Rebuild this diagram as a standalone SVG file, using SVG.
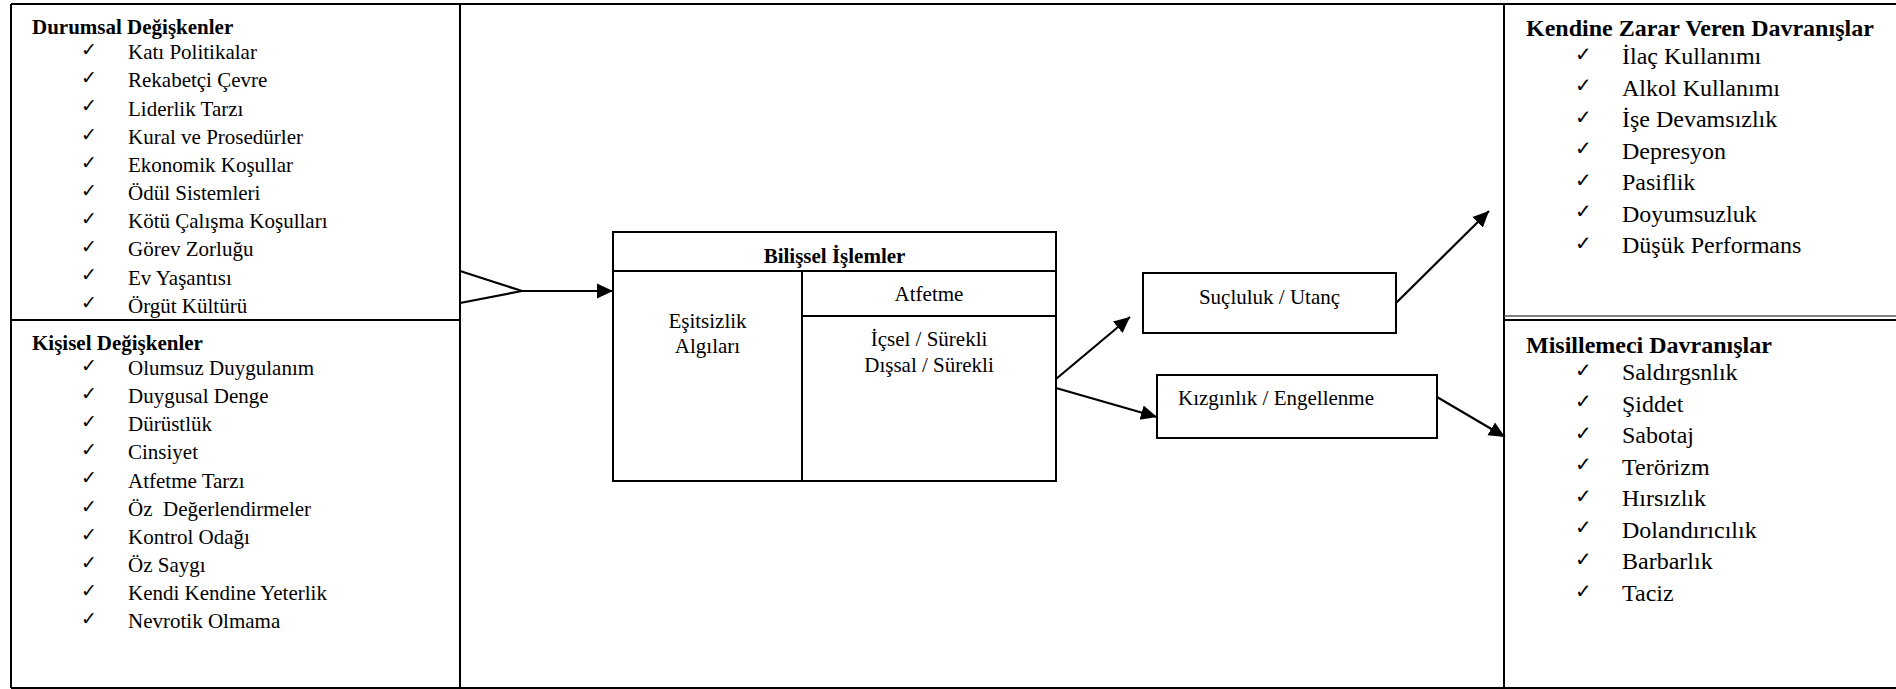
<svg xmlns="http://www.w3.org/2000/svg" width="1896" height="689" viewBox="0 0 1896 689">
<style>
.t{font-size:21px;fill:#000}
.b{font-weight:bold}
.r{font-size:24px}
.ck{font-size:19px;fill:#000}
.ckr{font-size:20px}
.m{text-anchor:middle}
.ln{stroke:#000;stroke-width:2;fill:none}
.bx{stroke:#000;stroke-width:2;fill:#fff}
.cn{stroke:#000;stroke-width:2.2;fill:none}
</style>
<defs>
<marker id="ah" markerUnits="userSpaceOnUse" markerWidth="18" markerHeight="18" viewBox="0 0 18 18" refX="16" refY="9" orient="auto">
<path d="M0,1.5 L16,9 L0,16.5 Z" fill="#000"/>
</marker>
</defs>
<rect x="0" y="0" width="1896" height="689" fill="#fff"/>

<g id="frame">
<path class="ln" d="M11,4 H1896 M11,688 H1896 M11,4 V688 M460,4 V688 M1504,4 V688 M11,320 H460 M1504,320 H1896"/>
<path d="M1504,316 H1896" stroke="#555" stroke-width="1.5" fill="none"/>
</g>

<g id="durumsal" font-family="'Liberation Serif', 'Times New Roman', serif">
<text class="t b" x="32" y="34">Durumsal Değişkenler</text>
<text class="ck" font-family="'DejaVu Sans', sans-serif">
<tspan x="81" y="56">✓</tspan><tspan x="81" y="84">✓</tspan><tspan x="81" y="112">✓</tspan><tspan x="81" y="141">✓</tspan><tspan x="81" y="169">✓</tspan><tspan x="81" y="197">✓</tspan><tspan x="81" y="225">✓</tspan><tspan x="81" y="253">✓</tspan><tspan x="81" y="281">✓</tspan><tspan x="81" y="309">✓</tspan>
</text>
<text class="t">
<tspan x="128" y="59">Katı Politikalar</tspan>
<tspan x="128" y="87">Rekabetçi Çevre</tspan>
<tspan x="128" y="115.5">Liderlik Tarzı</tspan>
<tspan x="128" y="143.5">Kural ve Prosedürler</tspan>
<tspan x="128" y="171.5">Ekonomik Koşullar</tspan>
<tspan x="128" y="200">Ödül Sistemleri</tspan>
<tspan x="128" y="228">Kötü Çalışma Koşulları</tspan>
<tspan x="128" y="256">Görev Zorluğu</tspan>
<tspan x="128" y="284.5">Ev Yaşantısı</tspan>
<tspan x="128" y="312.5">Örgüt Kültürü</tspan>
</text>
</g>

<g id="kisisel" font-family="'Liberation Serif', 'Times New Roman', serif">
<text class="t b" x="32" y="350">Kişisel Değişkenler</text>
<text class="ck" font-family="'DejaVu Sans', sans-serif">
<tspan x="81" y="372">✓</tspan><tspan x="81" y="400">✓</tspan><tspan x="81" y="428">✓</tspan><tspan x="81" y="456">✓</tspan><tspan x="81" y="484">✓</tspan><tspan x="81" y="513">✓</tspan><tspan x="81" y="541">✓</tspan><tspan x="81" y="569">✓</tspan><tspan x="81" y="597">✓</tspan><tspan x="81" y="625">✓</tspan>
</text>
<text class="t">
<tspan x="128" y="375">Olumsuz Duygulanım</tspan>
<tspan x="128" y="403">Duygusal Denge</tspan>
<tspan x="128" y="431">Dürüstlük</tspan>
<tspan x="128" y="459">Cinsiyet</tspan>
<tspan x="128" y="487.5">Atfetme Tarzı</tspan>
<tspan x="128" y="515.5" xml:space="preserve">Öz  Değerlendirmeler</tspan>
<tspan x="128" y="543.5">Kontrol Odağı</tspan>
<tspan x="128" y="571.5">Öz Saygı</tspan>
<tspan x="128" y="600">Kendi Kendine Yeterlik</tspan>
<tspan x="128" y="628">Nevrotik Olmama</tspan>
</text>
</g>

<g id="bilissel" font-family="'Liberation Serif', 'Times New Roman', serif">
<rect class="bx" x="613" y="232" width="443" height="249"/>
<path class="ln" d="M613,271 H1056 M802,271 V481 M802,316 H1056"/>
<text class="t b m" x="834.5" y="263">Bilişsel İşlemler</text>
<text class="t m" x="929" y="301">Atfetme</text>
<text class="t m" x="707.5" y="328">Eşitsizlik</text>
<text class="t m" x="707.5" y="353">Algıları</text>
<text class="t m" x="929" y="346">İçsel / Sürekli</text>
<text class="t m" x="929" y="372">Dışsal / Sürekli</text>
</g>

<g id="sucluluk" font-family="'Liberation Serif', 'Times New Roman', serif">
<rect class="bx" x="1143" y="273" width="253" height="60"/>
<text class="t m" x="1269.5" y="304">Suçluluk / Utanç</text>
</g>

<g id="kizginlik" font-family="'Liberation Serif', 'Times New Roman', serif">
<rect class="bx" x="1157" y="375" width="280" height="63"/>
<text class="t" x="1178" y="405">Kızgınlık / Engellenme</text>
</g>

<g id="kendine" font-family="'Liberation Serif', 'Times New Roman', serif">
<text class="t b r" x="1526" y="36">Kendine Zarar Veren Davranışlar</text>
<text class="ck ckr" font-family="'DejaVu Sans', sans-serif">
<tspan x="1575" y="61">✓</tspan><tspan x="1575" y="92">✓</tspan><tspan x="1575" y="124">✓</tspan><tspan x="1575" y="155">✓</tspan><tspan x="1575" y="187">✓</tspan><tspan x="1575" y="218">✓</tspan><tspan x="1575" y="250">✓</tspan>
</text>
<text class="t r">
<tspan x="1622" y="64">İlaç Kullanımı</tspan>
<tspan x="1622" y="95.5">Alkol Kullanımı</tspan>
<tspan x="1622" y="127">İşe Devamsızlık</tspan>
<tspan x="1622" y="158.5">Depresyon</tspan>
<tspan x="1622" y="190">Pasiflik</tspan>
<tspan x="1622" y="221.5">Doyumsuzluk</tspan>
<tspan x="1622" y="253">Düşük Performans</tspan>
</text>
</g>

<g id="misillemeci" font-family="'Liberation Serif', 'Times New Roman', serif">
<text class="t b r" x="1526" y="353">Misillemeci Davranışlar</text>
<text class="ck ckr" font-family="'DejaVu Sans', sans-serif">
<tspan x="1575" y="377">✓</tspan><tspan x="1575" y="408">✓</tspan><tspan x="1575" y="440">✓</tspan><tspan x="1575" y="471">✓</tspan><tspan x="1575" y="503">✓</tspan><tspan x="1575" y="534">✓</tspan><tspan x="1575" y="566">✓</tspan><tspan x="1575" y="598">✓</tspan>
</text>
<text class="t r">
<tspan x="1622" y="380">Saldırgsnlık</tspan>
<tspan x="1622" y="411.5">Şiddet</tspan>
<tspan x="1622" y="443">Sabotaj</tspan>
<tspan x="1622" y="474.5">Terörizm</tspan>
<tspan x="1622" y="506">Hırsızlık</tspan>
<tspan x="1622" y="537.5">Dolandırıcılık</tspan>
<tspan x="1622" y="569">Barbarlık</tspan>
<tspan x="1622" y="600.5">Taciz</tspan>
</text>
</g>

<g id="connectors">
<path class="cn" d="M460,271 L522,291 L460,303"/>
<path class="cn" d="M522,291 H613" marker-end="url(#ah)"/>
<path class="cn" d="M1056,379 L1130,317" marker-end="url(#ah)"/>
<path class="cn" d="M1056,388 L1157,417" marker-end="url(#ah)"/>
<path class="cn" d="M1396,303 L1489,211" marker-end="url(#ah)"/>
<path class="cn" d="M1437,397 L1505,437" marker-end="url(#ah)"/>
</g>
</svg>
